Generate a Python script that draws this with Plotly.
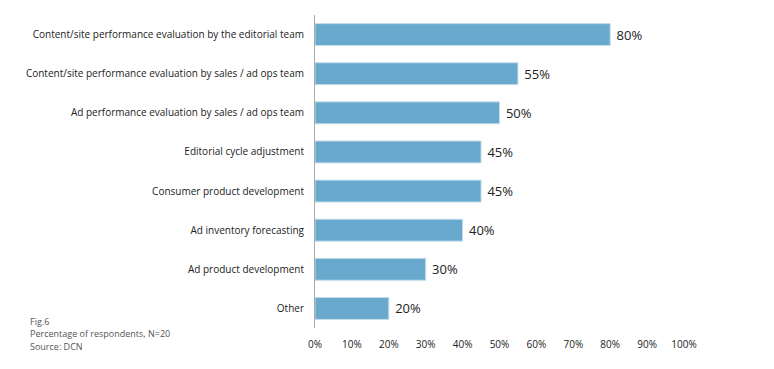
import plotly.graph_objects as go

categories = [
    "Content/site performance evaluation by the editorial team",
    "Content/site performance evaluation by sales / ad ops team",
    "Ad performance evaluation by sales / ad ops team",
    "Editorial cycle adjustment",
    "Consumer product development",
    "Ad inventory forecasting",
    "Ad product development",
    "Other",
]
values = [80, 55, 50, 45, 45, 40, 30, 20]
tick_vals = [0, 10, 20, 30, 40, 50, 60, 70, 80, 90, 100]
tick_text = [f"{v}%" for v in tick_vals]
footnote = ["Fig.6", "Percentage of respondents, N=20", "Source: DCN"]

font_family = "Open Sans, Noto Sans, sans-serif"

# the page body has an 8px default margin; size the figure to fit the window
OFF = 8
W, H = 774 - OFF, 369 - OFF
L, R, T, B = 315 - OFF, 90, 15 - OFF, 41
plot_w = W - L - R
plot_h = H - T - B

fig = go.Figure(
    go.Bar(
        x=values,
        y=categories,
        orientation="h",
        marker=dict(color="#68A9CD", line=dict(color="#C4DEEC", width=1)),
        width=0.56,
        text=[f" {v}%" for v in values],
        textposition="outside",
        textfont=dict(size=13, color="#222222", family=font_family),
        cliponaxis=False,
        hoverinfo="skip",
    )
)

fig.update_layout(
    width=W,
    height=H,
    margin=dict(l=L, r=R, t=T, b=B),
    paper_bgcolor="white",
    plot_bgcolor="white",
    showlegend=False,
    font=dict(family=font_family, color="#222222"),
)

fig.update_xaxes(
    range=[0, 100],
    tickvals=tick_vals,
    ticktext=tick_text,
    showgrid=False,
    zeroline=False,
    showline=False,
    ticks="",
    automargin=False,
    ticklabelstandoff=9,
    tickfont=dict(size=10, color="#222222"),
    fixedrange=True,
)

fig.update_yaxes(
    autorange="reversed",
    showgrid=False,
    zeroline=False,
    showline=True,
    linecolor="#AAAAAA",
    linewidth=1,
    ticks="",
    automargin=False,
    ticklabelstandoff=8,
    tickfont=dict(size=10, color="#222222"),
    fixedrange=True,
)

for i, line in enumerate(footnote):
    y_px = 321 + 12.5 * i - OFF
    fig.add_annotation(
        text=line,
        xref="paper",
        yref="paper",
        x=(28 - OFF - L) / plot_w,
        y=(H - B - y_px) / plot_h,
        xanchor="left",
        yanchor="middle",
        showarrow=False,
        font=dict(size=9, color="#555555", family=font_family),
    )

fig.write_html("out.html")
